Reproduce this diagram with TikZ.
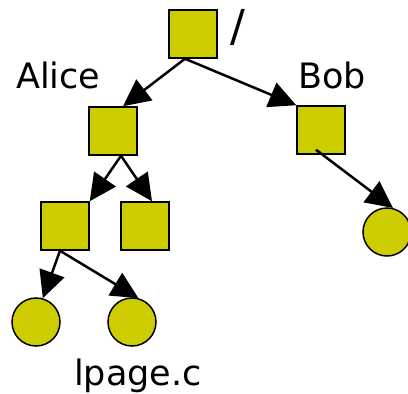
\documentclass[tikz,border=0pt]{standalone}
\usepackage{fontspec}
\setmainfont{DejaVu Sans}
\usetikzlibrary{arrows.meta}
\definecolor{olive}{RGB}{204,204,0}
\tikzset{
  box/.style={draw=black, fill=olive, line width=1.5pt, minimum size=48pt, inner sep=0pt},
  leaf/.style={circle, draw=black, fill=olive, line width=1.5pt, minimum size=48pt, inner sep=0pt},
  label/.style={inner sep=0pt, font=\fontsize{35}{40}\selectfont},
  link/.style={line width=2.5pt, -{Triangle[length=27pt,width=26pt]}}
}
\begin{document}
\begin{tikzpicture}[x=1pt,y=-1pt]
  \useasboundingbox (0,0) rectangle (408,394);
  % directory tree
  \node[box]  (root)  at (193,34)  {};
  \node[box]  (alice) at (113,131) {};
  \node[box]  (bob)   at (321,130) {};
  \node[box]  (ll)    at (65,226)  {};
  \node[box]  (lr)    at (145,226) {};
  \node[leaf] (c1)    at (36,322)  {};
  \node[leaf] (c2)    at (132,322) {};
  \node[leaf] (c3)    at (387,232) {};
  % labels
  \node[label, anchor=center, font=\fontsize{44}{48}\selectfont] (slash) at (238,28) {/};
  \node[label, anchor=base west]  (la)    at (16,88)   {Alice};
  \node[label, anchor=base west]  (lb)    at (298,88)  {Bob};
  \node[label, anchor=base west]  (lc)    at (74,385)  {lpage.c};
  % edges
  \draw[link] ([xshift=-8pt]root.south) -- ([xshift=10pt]alice.north);
  \draw[link] ([xshift=-8pt]root.south) -- (bob.north west);
  \draw[link] ([xshift=8pt]alice.south) -- (ll.north east);
  \draw[link] ([xshift=8pt]alice.south) -- ([xshift=7pt]lr.north);
  \draw[link] ([xshift=-5pt]ll.south) -- (c1.74);
  \draw[link] ([xshift=-5pt]ll.south) -- (c2.75);
  \draw[link] ([xshift=-5pt,yshift=5pt]bob.south) -- (c3.76);
\end{tikzpicture}
\end{document}
